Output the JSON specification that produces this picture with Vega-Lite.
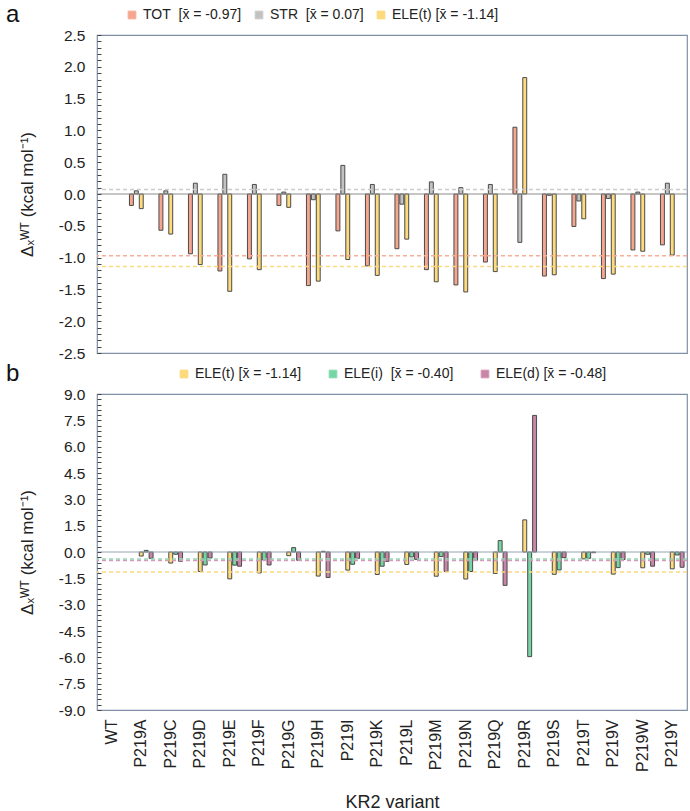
{
  "$schema": "https://vega.github.io/schema/vega-lite/v6.json",
  "padding": {"left": 5, "top": 2, "right": 3, "bottom": 3},
  "background": "white",
  "config": {
    "font": "Liberation Sans",
    "view": {"stroke": "#8090a6", "strokeWidth": 1.2},
    "axis": {"grid": false, "domain": false, "labelColor": "#222", "titleColor": "#222", "titleFontWeight": "normal", "labelFont": "Liberation Sans", "titleFont": "Liberation Sans"},
    "legend": {"orient": "none", "legendY": -27, "direction": "horizontal", "title": null, "symbolType": "square", "symbolSize": 60, "symbolStrokeColor": "#555", "symbolStrokeWidth": 1, "labelFontSize": 14, "labelColor": "#222", "columnPadding": 10, "labelLimit": 300},
    "title": {"anchor": "start", "frame": "group", "fontSize": 24, "fontWeight": "normal", "color": "#111", "dx": -91, "dy": 23, "offset": 0}
  },
  "datasets": {
    "a": [
      {"variant": "P219A", "series": "TOT", "value": -0.18}, {"variant": "P219A", "series": "STR", "value": 0.05}, {"variant": "P219A", "series": "ELE(t)", "value": -0.23},
      {"variant": "P219C", "series": "TOT", "value": -0.57}, {"variant": "P219C", "series": "STR", "value": 0.05}, {"variant": "P219C", "series": "ELE(t)", "value": -0.63},
      {"variant": "P219D", "series": "TOT", "value": -0.94}, {"variant": "P219D", "series": "STR", "value": 0.17}, {"variant": "P219D", "series": "ELE(t)", "value": -1.11},
      {"variant": "P219E", "series": "TOT", "value": -1.21}, {"variant": "P219E", "series": "STR", "value": 0.31}, {"variant": "P219E", "series": "ELE(t)", "value": -1.53},
      {"variant": "P219F", "series": "TOT", "value": -1.02}, {"variant": "P219F", "series": "STR", "value": 0.15}, {"variant": "P219F", "series": "ELE(t)", "value": -1.19},
      {"variant": "P219G", "series": "TOT", "value": -0.18}, {"variant": "P219G", "series": "STR", "value": 0.03}, {"variant": "P219G", "series": "ELE(t)", "value": -0.21},
      {"variant": "P219H", "series": "TOT", "value": -1.44}, {"variant": "P219H", "series": "STR", "value": -0.09}, {"variant": "P219H", "series": "ELE(t)", "value": -1.37},
      {"variant": "P219I", "series": "TOT", "value": -0.58}, {"variant": "P219I", "series": "STR", "value": 0.45}, {"variant": "P219I", "series": "ELE(t)", "value": -1.03},
      {"variant": "P219K", "series": "TOT", "value": -1.13}, {"variant": "P219K", "series": "STR", "value": 0.15}, {"variant": "P219K", "series": "ELE(t)", "value": -1.28},
      {"variant": "P219L", "series": "TOT", "value": -0.86}, {"variant": "P219L", "series": "STR", "value": -0.16}, {"variant": "P219L", "series": "ELE(t)", "value": -0.71},
      {"variant": "P219M", "series": "TOT", "value": -1.19}, {"variant": "P219M", "series": "STR", "value": 0.19}, {"variant": "P219M", "series": "ELE(t)", "value": -1.38},
      {"variant": "P219N", "series": "TOT", "value": -1.43}, {"variant": "P219N", "series": "STR", "value": 0.10}, {"variant": "P219N", "series": "ELE(t)", "value": -1.54},
      {"variant": "P219Q", "series": "TOT", "value": -1.07}, {"variant": "P219Q", "series": "STR", "value": 0.15}, {"variant": "P219Q", "series": "ELE(t)", "value": -1.22},
      {"variant": "P219R", "series": "TOT", "value": 1.05}, {"variant": "P219R", "series": "STR", "value": -0.76}, {"variant": "P219R", "series": "ELE(t)", "value": 1.83},
      {"variant": "P219S", "series": "TOT", "value": -1.29}, {"variant": "P219S", "series": "STR", "value": -0.02}, {"variant": "P219S", "series": "ELE(t)", "value": -1.27},
      {"variant": "P219T", "series": "TOT", "value": -0.51}, {"variant": "P219T", "series": "STR", "value": -0.11}, {"variant": "P219T", "series": "ELE(t)", "value": -0.39},
      {"variant": "P219V", "series": "TOT", "value": -1.33}, {"variant": "P219V", "series": "STR", "value": -0.07}, {"variant": "P219V", "series": "ELE(t)", "value": -1.26},
      {"variant": "P219W", "series": "TOT", "value": -0.88}, {"variant": "P219W", "series": "STR", "value": 0.03}, {"variant": "P219W", "series": "ELE(t)", "value": -0.90},
      {"variant": "P219Y", "series": "TOT", "value": -0.80}, {"variant": "P219Y", "series": "STR", "value": 0.17}, {"variant": "P219Y", "series": "ELE(t)", "value": -0.96}
    ],
    "b": [
      {"variant": "P219A", "series": "ELE(t)", "value": -0.23}, {"variant": "P219A", "series": "ELE(i)", "value": 0.09}, {"variant": "P219A", "series": "ELE(d)", "value": -0.36},
      {"variant": "P219C", "series": "ELE(t)", "value": -0.63}, {"variant": "P219C", "series": "ELE(i)", "value": -0.13}, {"variant": "P219C", "series": "ELE(d)", "value": -0.53},
      {"variant": "P219D", "series": "ELE(t)", "value": -1.11}, {"variant": "P219D", "series": "ELE(i)", "value": -0.74}, {"variant": "P219D", "series": "ELE(d)", "value": -0.34},
      {"variant": "P219E", "series": "ELE(t)", "value": -1.53}, {"variant": "P219E", "series": "ELE(i)", "value": -0.75}, {"variant": "P219E", "series": "ELE(d)", "value": -0.81},
      {"variant": "P219F", "series": "ELE(t)", "value": -1.19}, {"variant": "P219F", "series": "ELE(i)", "value": -0.45}, {"variant": "P219F", "series": "ELE(d)", "value": -0.74},
      {"variant": "P219G", "series": "ELE(t)", "value": -0.21}, {"variant": "P219G", "series": "ELE(i)", "value": 0.25}, {"variant": "P219G", "series": "ELE(d)", "value": -0.47},
      {"variant": "P219H", "series": "ELE(t)", "value": -1.37}, {"variant": "P219H", "series": "ELE(i)", "value": 0.04}, {"variant": "P219H", "series": "ELE(d)", "value": -1.45},
      {"variant": "P219I", "series": "ELE(t)", "value": -1.03}, {"variant": "P219I", "series": "ELE(i)", "value": -0.70}, {"variant": "P219I", "series": "ELE(d)", "value": -0.36},
      {"variant": "P219K", "series": "ELE(t)", "value": -1.28}, {"variant": "P219K", "series": "ELE(i)", "value": -0.81}, {"variant": "P219K", "series": "ELE(d)", "value": -0.53},
      {"variant": "P219L", "series": "ELE(t)", "value": -0.71}, {"variant": "P219L", "series": "ELE(i)", "value": -0.28}, {"variant": "P219L", "series": "ELE(d)", "value": -0.42},
      {"variant": "P219M", "series": "ELE(t)", "value": -1.38}, {"variant": "P219M", "series": "ELE(i)", "value": -0.26}, {"variant": "P219M", "series": "ELE(d)", "value": -1.11},
      {"variant": "P219N", "series": "ELE(t)", "value": -1.54}, {"variant": "P219N", "series": "ELE(i)", "value": -1.11}, {"variant": "P219N", "series": "ELE(d)", "value": -0.47},
      {"variant": "P219Q", "series": "ELE(t)", "value": -1.22}, {"variant": "P219Q", "series": "ELE(i)", "value": 0.65}, {"variant": "P219Q", "series": "ELE(d)", "value": -1.90},
      {"variant": "P219R", "series": "ELE(t)", "value": 1.83}, {"variant": "P219R", "series": "ELE(i)", "value": -5.96}, {"variant": "P219R", "series": "ELE(d)", "value": 7.78},
      {"variant": "P219S", "series": "ELE(t)", "value": -1.27}, {"variant": "P219S", "series": "ELE(i)", "value": -1.02}, {"variant": "P219S", "series": "ELE(d)", "value": -0.32},
      {"variant": "P219T", "series": "ELE(t)", "value": -0.39}, {"variant": "P219T", "series": "ELE(i)", "value": -0.36}, {"variant": "P219T", "series": "ELE(d)", "value": -0.04},
      {"variant": "P219V", "series": "ELE(t)", "value": -1.26}, {"variant": "P219V", "series": "ELE(i)", "value": -0.89}, {"variant": "P219V", "series": "ELE(d)", "value": -0.43},
      {"variant": "P219W", "series": "ELE(t)", "value": -0.90}, {"variant": "P219W", "series": "ELE(i)", "value": -0.13}, {"variant": "P219W", "series": "ELE(d)", "value": -0.81},
      {"variant": "P219Y", "series": "ELE(t)", "value": -0.96}, {"variant": "P219Y", "series": "ELE(i)", "value": -0.17}, {"variant": "P219Y", "series": "ELE(d)", "value": -0.87}
    ],
    "meanA": [
      {"series": "TOT", "mean": -0.97}, {"series": "STR", "mean": 0.07}, {"series": "ELE(t)", "mean": -1.14}
    ],
    "meanB": [
      {"series": "ELE(t)", "mean": -1.14}, {"series": "ELE(i)", "mean": -0.40}, {"series": "ELE(d)", "mean": -0.48}
    ],
    "zero": [{"v": 0}]
  },
  "resolve": {"scale": {"color": "independent", "stroke": "independent"}, "legend": {"color": "independent"}},
  "spacing": -2,
  "vconcat": [
    {
      "width": 590,
      "height": 318,
      "title": {"text": "a"},
      "layer": [
        {
          "data": {"name": "a"},
          "mark": {"type": "bar", "stroke": "#4a4a4a", "strokeWidth": 1},
          "encoding": {
            "x": {"field": "variant", "type": "nominal", "axis": null,
              "scale": {"domain": ["WT", "P219A", "P219C", "P219D", "P219E", "P219F", "P219G", "P219H", "P219I", "P219K", "P219L", "P219M", "P219N", "P219Q", "P219R", "P219S", "P219T", "P219V", "P219W", "P219Y"], "paddingInner": 0.2, "paddingOuter": 0.1}},
            "xOffset": {"field": "series", "type": "nominal", "scale": {"domain": ["TOT", "STR", "ELE(t)"], "paddingInner": 0.2}},
            "y": {"field": "value", "type": "quantitative",
              "scale": {"domain": [-2.5, 2.5], "nice": false, "zero": false},
              "axis": {
                "values": [-2.5, -2.4, -2.3, -2.2, -2.1, -2.0, -1.9, -1.8, -1.7, -1.6, -1.5, -1.4, -1.3, -1.2, -1.1, -1.0, -0.9, -0.8, -0.7, -0.6, -0.5, -0.4, -0.3, -0.2, -0.1, 0, 0.1, 0.2, 0.3, 0.4, 0.5, 0.6, 0.7, 0.8, 0.9, 1.0, 1.1, 1.2, 1.3, 1.4, 1.5, 1.6, 1.7, 1.8, 1.9, 2.0, 2.1, 2.2, 2.3, 2.4, 2.5],
                "tickCount": 200, "zindex": 1, "offset": -4,
                "labelExpr": "abs(round(datum.value*10)) % 5 == 0 ? (datum.value < -0.001 ? '-' : '') + format(abs(datum.value), '.1f') : ''",
                "labelOverlap": false, "labelFlush": false,
                "tickSize": 4, "tickColor": "#444", "tickWidth": 1, "labelPadding": 12, "labelFontSize": 15.5,
                "title": "Δₓᵂᵀ (kcal mol⁻¹)", "titleFontSize": 17, "titlePadding": 22
              }},
            "color": {"field": "series", "type": "nominal",
              "scale": {"domain": ["TOT", "STR", "ELE(t)"], "range": ["#f6a68e", "#c2c2c2", "#fdda7c"]},
              "legend": {"legendX": 28, "labelExpr": "datum.label == 'TOT' ? 'TOT\u00a0\u00a0[x\u0304 = -0.97]' : datum.label == 'STR' ? 'STR\u00a0\u00a0[x\u0304 = 0.07]' : 'ELE(t)\u00a0[x\u0304 = -1.14]'"}}
          }
        },
        {
          "data": {"name": "zero"},
          "mark": {"type": "rule", "color": "#8c8c8c", "strokeWidth": 1.2},
          "encoding": {"y": {"field": "v", "type": "quantitative"}}
        },
        {
          "data": {"name": "meanA"},
          "mark": {"type": "rule", "strokeDash": [4, 3], "strokeWidth": 1.4},
          "encoding": {
            "y": {"field": "mean", "type": "quantitative"},
            "stroke": {"field": "series", "type": "nominal", "legend": null,
              "scale": {"domain": ["TOT", "STR", "ELE(t)"], "range": ["#f7ae96", "#cccccc", "#fbd97e"]}}
          }
        }
      ]
    },
    {
      "width": 590,
      "height": 316,
      "title": {"text": "b"},
      "layer": [
        {
          "data": {"name": "b"},
          "mark": {"type": "bar", "stroke": "#4a4a4a", "strokeWidth": 1},
          "encoding": {
            "x": {"field": "variant", "type": "nominal",
              "scale": {"domain": ["WT", "P219A", "P219C", "P219D", "P219E", "P219F", "P219G", "P219H", "P219I", "P219K", "P219L", "P219M", "P219N", "P219Q", "P219R", "P219S", "P219T", "P219V", "P219W", "P219Y"], "paddingInner": 0.2, "paddingOuter": 0.1},
              "axis": {"labelAngle": -90, "labelFontSize": 16, "ticks": false, "labelPadding": 9, "title": "KR2 variant", "titleFontSize": 18, "titlePadding": 22}},
            "xOffset": {"field": "series", "type": "nominal", "scale": {"domain": ["ELE(t)", "ELE(i)", "ELE(d)"], "paddingInner": 0.2}},
            "y": {"field": "value", "type": "quantitative",
              "scale": {"domain": [-9, 9], "nice": false, "zero": false},
              "axis": {
                "values": [-9, -8.7, -8.4, -8.1, -7.8, -7.5, -7.2, -6.9, -6.6, -6.3, -6, -5.7, -5.4, -5.1, -4.8, -4.5, -4.2, -3.9, -3.6, -3.3, -3, -2.7, -2.4, -2.1, -1.8, -1.5, -1.2, -0.9, -0.6, -0.3, 0, 0.3, 0.6, 0.9, 1.2, 1.5, 1.8, 2.1, 2.4, 2.7, 3, 3.3, 3.6, 3.9, 4.2, 4.5, 4.8, 5.1, 5.4, 5.7, 6, 6.3, 6.6, 6.9, 7.2, 7.5, 7.8, 8.1, 8.4, 8.7, 9],
                "tickCount": 200, "zindex": 1, "offset": -4,
                "labelExpr": "abs(round(datum.value*10)) % 15 == 0 ? (datum.value < -0.001 ? '-' : '') + format(abs(datum.value), '.1f') : ''",
                "labelOverlap": false, "labelFlush": false,
                "tickSize": 4, "tickColor": "#444", "tickWidth": 1, "labelPadding": 12, "labelFontSize": 15.5,
                "title": "Δₓᵂᵀ (kcal mol⁻¹)", "titleFontSize": 17, "titlePadding": 22
              }},
            "color": {"field": "series", "type": "nominal",
              "scale": {"domain": ["ELE(t)", "ELE(i)", "ELE(d)"], "range": ["#fdda7c", "#74d6a4", "#c985a7"]},
              "legend": {"legendX": 80, "columnPadding": 24, "labelExpr": "datum.label == 'ELE(t)' ? 'ELE(t)\u00a0[x\u0304 = -1.14]' : datum.label == 'ELE(i)' ? 'ELE(i)\u00a0\u00a0[x\u0304 = -0.40]' : 'ELE(d)\u00a0[x\u0304 = -0.48]'"}}
          }
        },
        {
          "data": {"name": "zero"},
          "mark": {"type": "rule", "color": "#98a4b4", "strokeWidth": 1.2},
          "encoding": {"y": {"field": "v", "type": "quantitative"}}
        },
        {
          "data": {"name": "meanB"},
          "mark": {"type": "rule", "strokeDash": [4, 3], "strokeWidth": 1.4},
          "encoding": {
            "y": {"field": "mean", "type": "quantitative"},
            "stroke": {"field": "series", "type": "nominal", "legend": null,
              "scale": {"domain": ["ELE(t)", "ELE(i)", "ELE(d)"], "range": ["#fbd97e", "#8edcb2", "#d49ab9"]}}
          }
        }
      ]
    }
  ]
}
